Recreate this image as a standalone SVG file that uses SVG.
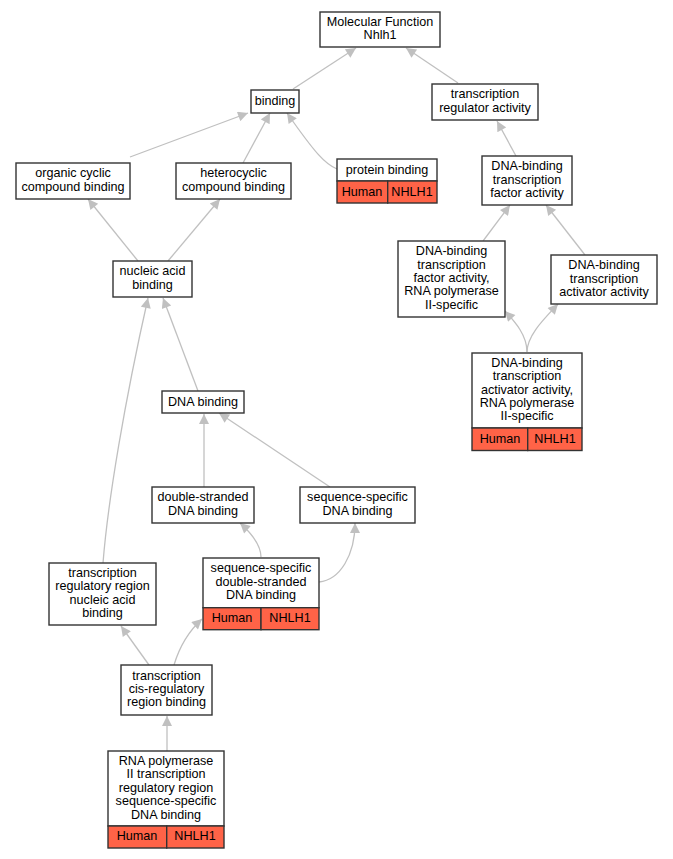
<svg xmlns="http://www.w3.org/2000/svg" width="673" height="859" viewBox="0 0 673 859">
<style>
.n rect{fill:#fff;stroke:#333;stroke-width:1.4}
.n rect.c{fill:#ff6347}
.n text{font-family:"Liberation Sans",Arial,sans-serif;font-size:12.6px;text-anchor:middle;fill:#000}
.e path{fill:none;stroke:#c0c0c0;stroke-width:1.3}
</style>
<defs>
<marker id="a" viewBox="0 0 10 10" refX="10" refY="5" markerUnits="userSpaceOnUse" markerWidth="12" markerHeight="10" orient="auto">
<path d="M0,0 L10,5 L0,10 z" fill="#c0c0c0"/>
</marker>
</defs>
<rect width="673" height="859" fill="#fff"/>
<g class="e" id="edges">
<path marker-end="url(#a)" d="M293,89 L356,48"/>
<path marker-end="url(#a)" d="M458,83 L406,48"/>
<path marker-end="url(#a)" d="M130,157 L248,113"/>
<path marker-end="url(#a)" d="M243,163 L270,113"/>
<path marker-end="url(#a)" d="M337,169 C325,164 315,153 287,113"/>
<path marker-end="url(#a)" d="M138,261 L88,199"/>
<path marker-end="url(#a)" d="M168,261 L220,199"/>
<path marker-end="url(#a)" d="M516,156 L497,121"/>
<path marker-end="url(#a)" d="M483,241 L510,205"/>
<path marker-end="url(#a)" d="M585,255 L546,205"/>
<path marker-end="url(#a)" d="M527,352 C527,335 515,322 505,311"/>
<path marker-end="url(#a)" d="M527,352 C527,335 545,318 558,304"/>
<path marker-end="url(#a)" d="M198,391 L163,298"/>
<path marker-end="url(#a)" d="M103,563 C108,500 125,400 148,298"/>
<path marker-end="url(#a)" d="M204,487 L204,414"/>
<path marker-end="url(#a)" d="M330,487 L219,413"/>
<path marker-end="url(#a)" d="M261,557 C261,545 250,532 240,523"/>
<path marker-end="url(#a)" d="M319,582 C340,580 355,555 355,523"/>
<path marker-end="url(#a)" d="M149,665 L121,626"/>
<path marker-end="url(#a)" d="M174,665 C180,645 190,630 202,619"/>
<path marker-end="url(#a)" d="M167,751 L167,716"/>
</g>
<g class="n" id="mf"><rect x="320" y="12" width="120" height="35"/><text x="380" y="25.5">Molecular Function</text><text x="380" y="38.9">Nhlh1</text></g>
<g class="n" id="binding"><rect x="251" y="90" width="48" height="23"/><text x="275" y="105">binding</text></g>
<g class="n" id="tra"><rect x="432" y="84" width="106" height="36"/><text x="485" y="98.3">transcription</text><text x="485" y="111.7">regulator activity</text></g>
<g class="n" id="occb"><rect x="16" y="163" width="114" height="36"/><text x="73" y="177.3">organic cyclic</text><text x="73" y="190.7">compound binding</text></g>
<g class="n" id="hcb"><rect x="176" y="163" width="115" height="36"/><text x="233.5" y="177.3">heterocyclic</text><text x="233.5" y="190.7">compound binding</text></g>
<g class="n" id="pb"><rect x="337" y="159" width="100" height="22"/><rect class="c" x="337" y="181" width="50.7" height="22"/><rect class="c" x="387.7" y="181" width="49.3" height="22"/><text x="387" y="173.5">protein binding</text><text x="362" y="195.5">Human</text><text x="412" y="195.5">NHLH1</text></g>
<g class="n" id="nab"><rect x="113" y="261" width="79" height="36"/><text x="152.5" y="275.3">nucleic acid</text><text x="152.5" y="288.7">binding</text></g>
<g class="n" id="dtfa"><rect x="482" y="156" width="90" height="49"/><text x="527" y="170.1">DNA-binding</text><text x="527" y="183.5">transcription</text><text x="527" y="196.9">factor activity</text></g>
<g class="n" id="dtfa2"><rect x="398" y="241" width="107" height="76"/><text x="451.5" y="255.2">DNA-binding</text><text x="451.5" y="268.6">transcription</text><text x="451.5" y="282">factor activity,</text><text x="451.5" y="295.4">RNA polymerase</text><text x="451.5" y="308.8">II-specific</text></g>
<g class="n" id="dtaa"><rect x="551" y="255" width="106" height="49"/><text x="604" y="269.1">DNA-binding</text><text x="604" y="282.5">transcription</text><text x="604" y="295.9">activator activity</text></g>
<g class="n" id="dtaa2"><rect x="472" y="353" width="110" height="75"/><rect class="c" x="472" y="428" width="55.7" height="22.5"/><rect class="c" x="527.7" y="428" width="54.3" height="22.5"/><text x="527" y="366.7">DNA-binding</text><text x="527" y="380.1">transcription</text><text x="527" y="393.5">activator activity,</text><text x="527" y="406.9">RNA polymerase</text><text x="527" y="420.3">II-specific</text><text x="500" y="442.5">Human</text><text x="555" y="442.5">NHLH1</text></g>
<g class="n" id="dnab"><rect x="162" y="391" width="82" height="22"/><text x="203" y="405.5">DNA binding</text></g>
<g class="n" id="dsdb"><rect x="152" y="487" width="102" height="36"/><text x="203" y="501.3">double-stranded</text><text x="203" y="514.7">DNA binding</text></g>
<g class="n" id="ssdb"><rect x="300" y="487" width="115" height="36"/><text x="357.5" y="501.3">sequence-specific</text><text x="357.5" y="514.7">DNA binding</text></g>
<g class="n" id="ssdsdb"><rect x="203" y="558" width="116" height="49.7"/><rect class="c" x="203" y="607.7" width="58" height="22"/><rect class="c" x="261" y="607.7" width="58" height="22"/><text x="261" y="572.4">sequence-specific</text><text x="261" y="585.8">double-stranded</text><text x="261" y="599.2">DNA binding</text><text x="232" y="621.6">Human</text><text x="290" y="621.6">NHLH1</text></g>
<g class="n" id="trrnab"><rect x="49" y="563" width="107" height="62"/><text x="102.5" y="576.9">transcription</text><text x="102.5" y="590.3">regulatory region</text><text x="102.5" y="603.7">nucleic acid</text><text x="102.5" y="617.1">binding</text></g>
<g class="n" id="tcrb"><rect x="121" y="665" width="91" height="50"/><text x="166.5" y="679.6">transcription</text><text x="166.5" y="693">cis-regulatory</text><text x="166.5" y="706.4">region binding</text></g>
<g class="n" id="rnap"><rect x="108" y="751" width="116" height="75"/><rect class="c" x="108" y="826" width="58.7" height="22"/><rect class="c" x="166.7" y="826" width="57.3" height="22"/><text x="166" y="765">RNA polymerase</text><text x="166" y="778.4">II transcription</text><text x="166" y="791.8">regulatory region</text><text x="166" y="805.2">sequence-specific</text><text x="166" y="818.6">DNA binding</text><text x="137" y="840.3">Human</text><text x="195" y="840.3">NHLH1</text></g>
</svg>
